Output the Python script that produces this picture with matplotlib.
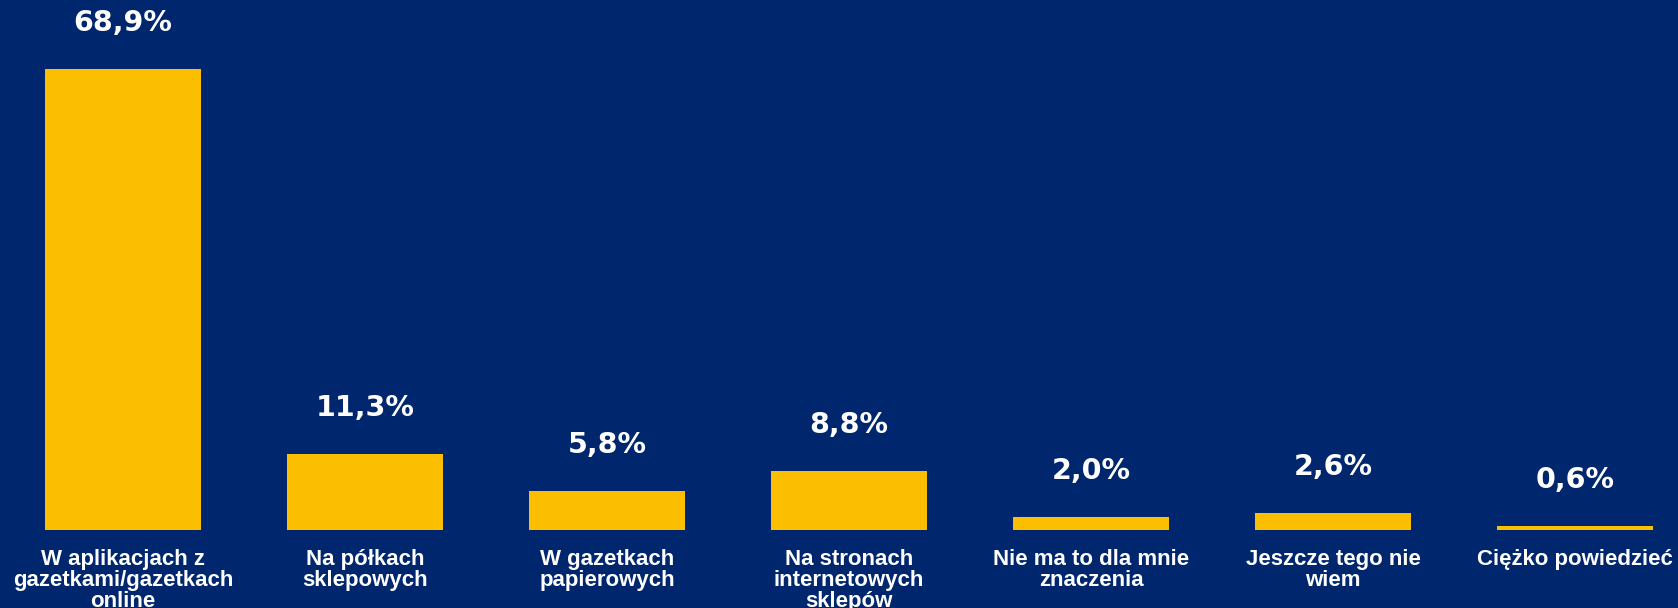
import matplotlib.pyplot as plt

# --- data ---
categories = [
    "W aplikacjach z\ngazetkami/gazetkach\nonline",
    "Na półkach\nsklepowych",
    "W gazetkach\npapierowych",
    "Na stronach\ninternetowych\nsklepów",
    "Nie ma to dla mnie\nznaczenia",
    "Jeszcze tego nie\nwiem",
    "Ciężko powiedzieć",
]
values = [68.9, 11.3, 5.8, 8.8, 2.0, 2.6, 0.6]
value_labels = ["68,9%", "11,3%", "5,8%", "8,8%", "2,0%", "2,6%", "0,6%"]

bg = "#00266E"
bar_col = "#FBBE00"

fig = plt.figure(figsize=(16.78, 6.08), dpi=100)
fig.patch.set_facecolor(bg)
ax = fig.add_axes([0, 0, 1, 1])
ax.set_facecolor(bg)

x = range(len(values))
ax.bar(x, values, width=0.645, color=bar_col)

# value labels above bars
for i, v in enumerate(values):
    ax.annotate(value_labels[i], (i, v), xytext=(0, 33), textcoords="offset points",
                ha="center", va="center", color="white", fontsize=20.5,
                fontweight="bold", family="DejaVu Sans")

# category labels under bars
for i, c in enumerate(categories):
    ax.annotate(c, (i, 0), xytext=(0, -14), textcoords="offset points",
                ha="center", va="top", color="white", fontsize=16,
                fontweight="bold", family="Liberation Sans", linespacing=1.0)

ax.set_xlim(-0.5087, 6.425)
ax.set_ylim(-11.65, 79.13)
ax.axis("off")

plt.savefig("out.png", dpi=100, facecolor=bg)
